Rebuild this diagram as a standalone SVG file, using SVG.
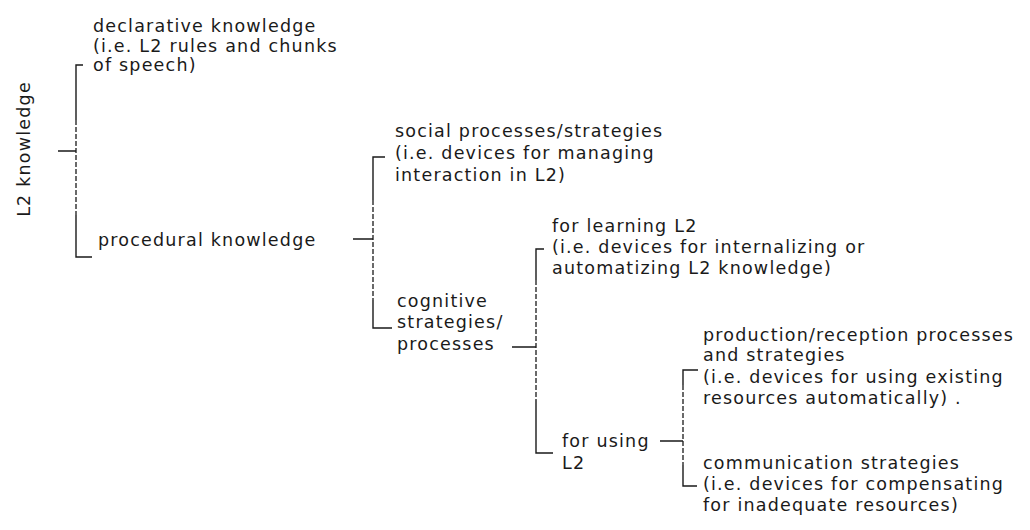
<svg xmlns="http://www.w3.org/2000/svg" width="1030" height="530" viewBox="0 0 1030 530">
<style>
text{font-family:"DejaVu Sans","Liberation Sans",sans-serif;font-size:17.5px;fill:#1a1a1a;letter-spacing:1.2px}
.ln{stroke:#1a1a1a;stroke-width:1.4;fill:none}
.dl{stroke:#1a1a1a;stroke-width:1.3;fill:none;stroke-dasharray:5 2}
</style>
<rect width="1030" height="530" fill="#fff"/>
<g id="root">
<text transform="translate(30,149) rotate(-90)" text-anchor="middle">L2 knowledge</text>
</g>
<g id="declarative">
<text x="93" y="32">declarative knowledge</text>
<text x="93" y="51.5">(i.e. L2 rules and chunks</text>
<text x="93" y="71">of speech)</text>
</g>
<g id="procedural">
<text x="98" y="246">procedural knowledge</text>
</g>
<g id="social">
<text x="395" y="137">social processes/strategies</text>
<text x="395" y="159">(i.e. devices for managing</text>
<text x="395" y="181">interaction in L2)</text>
</g>
<g id="cognitive">
<text x="397" y="307">cognitive</text>
<text x="397" y="328">strategies/</text>
<text x="397" y="350">processes</text>
</g>
<g id="learning">
<text x="552" y="232">for learning L2</text>
<text x="552" y="253">(i.e. devices for internalizing or</text>
<text x="552" y="274">automatizing L2 knowledge)</text>
</g>
<g id="using">
<text x="562" y="447">for using</text>
<text x="562" y="469">L2</text>
</g>
<g id="production">
<text x="703" y="341">production/reception processes</text>
<text x="703" y="361">and strategies</text>
<text x="703" y="383">(i.e. devices for using existing</text>
<text x="703" y="404">resources automatically) .</text>
</g>
<g id="communication">
<text x="703" y="469">communication strategies</text>
<text x="703" y="490">(i.e. devices for compensating</text>
<text x="703" y="511">for inadequate resources)</text>
</g>
<g id="connectors">
<path class="ln" d="M58,151H76 M83,65H76V120 M76,215V257H92"/>
<path class="dl" d="M76,120V215"/>
<path class="ln" d="M353,239H373 M385,157H373V200 M373,300V328H392"/>
<path class="dl" d="M373,200V300"/>
<path class="ln" d="M512,347H536 M544,249H536V280 M536,400V453H553"/>
<path class="dl" d="M536,280V400"/>
<path class="ln" d="M660,441H683 M698,370H683V385 M683,465V486H697"/>
<path class="dl" d="M683,385V465"/>
</g>
</svg>
